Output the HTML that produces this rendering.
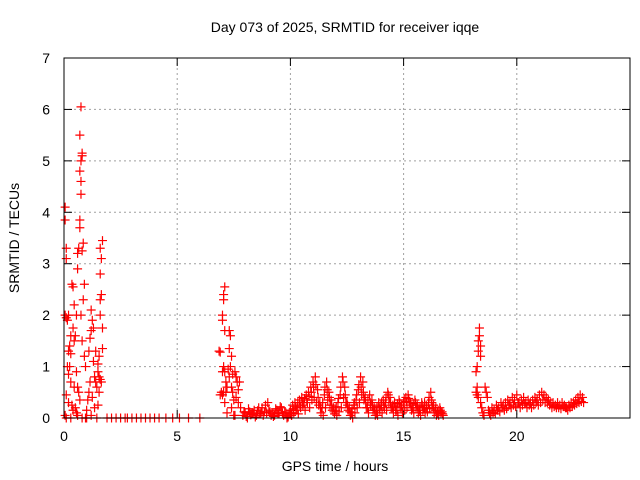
<!DOCTYPE html>
<html><head><meta charset="utf-8"><style>
body{margin:0;background:#fff}
svg{display:block;font-family:"Liberation Sans",sans-serif}
</style></head><body>
<svg id="chart" width="640" height="480">
<text x="345" y="32" font-size="14" text-anchor="middle">Day 073 of 2025, SRMTID for receiver iqqe</text>
<text x="335" y="471" font-size="14" text-anchor="middle">GPS time / hours</text>
<text transform="translate(19,238) rotate(-90)" font-size="14" text-anchor="middle">SRMTID / TECUs</text>
<g id="grid"></g>
<g id="ticks"></g>
<g id="marks"></g>
<rect x="64" y="58" width="566" height="360" fill="none" stroke="#000" stroke-width="1"/>
</svg>
<script>
const xTicks = [0,5,10,15,20];
const yTicks = [0,1,2,3,4,5,6,7];
const burst1 = [[0.05,4.1],[0.05,3.85],[0.1,3.3],[0.1,3.1],[0.05,2.0],[0.1,1.95],[0.15,1.9],[0.2,2.0],[0.25,1.4],[0.2,1.3],[0.3,1.25],[0.15,1.0],[0.2,0.85],[0.3,0.7],[0.1,0.45],[0.2,0.3],[0.35,0.25],[0.4,0.15],[0.05,0.05],[0.1,0.0],[0.3,0.0],[0.35,2.6],[0.4,2.55],[0.45,2.2],[0.4,1.75],[0.5,1.6],[0.45,1.5],[0.55,2.0],[0.6,3.2],[0.6,2.9],[0.65,3.3],[0.7,3.7],[0.7,3.85],[0.75,4.35],[0.7,4.8],[0.75,4.6],[0.75,5.0],[0.8,5.1],[0.8,5.15],[0.7,5.5],[0.75,6.05],[0.85,3.4],[0.8,3.25],[0.9,2.6],[0.85,2.3],[0.75,2.0],[0.8,1.5],[0.9,1.2],[0.95,1.0],[0.55,0.9],[0.6,0.6],[0.65,0.5],[0.7,0.35],[0.5,0.2],[0.55,0.1],[0.6,0.05],[0.8,0.0],[1.0,0.15],[1.05,0.35],[1.1,0.5],[1.15,0.7],[1.1,1.3],[1.15,1.55],[1.2,1.7],[1.25,1.9],[1.2,2.1],[1.3,1.75],[1.3,1.1],[1.35,0.8],[1.4,0.7],[1.25,0.4],[1.35,0.2],[1.2,0.05],[1.45,0.6],[1.5,0.9],[1.55,1.2],[1.6,2.0],[1.6,2.3],[1.65,2.4],[1.6,2.8],[1.65,3.1],[1.6,3.3],[1.7,3.45],[1.7,1.75],[1.55,0.8],[1.6,0.75],[1.65,0.7],[1.55,0.5],[1.5,1.05],[1.7,1.35],[1.5,0.25],[0.25,1.0],[0.3,1.6],[0.45,0.6],[1.4,1.3],[1.45,0.0]];
const zeros = [[1.9,0],[2.1,0],[2.3,0],[2.5,0],[2.7,0],[2.8,0],[3.0,0],[3.2,0],[3.4,0],[3.6,0],[3.8,0],[4.0,0],[4.2,0],[4.5,0],[4.8,0],[5.1,0],[5.5,0],[6.0,0],[1.0,0],[0.95,0]];
const burst2 = [[6.85,1.3],[6.9,1.28],[6.9,0.45],[6.95,0.5],[7.0,0.45],[7.0,2.0],[7.0,1.9],[7.05,2.3],[7.05,2.4],[7.1,2.55],[7.1,1.7],[7.05,1.0],[7.1,0.9],[7.15,0.7],[7.2,0.6],[7.15,0.5],[7.0,0.9],[7.05,0.5],[7.1,0.3],[7.2,0.1],[7.3,1.7],[7.35,1.6],[7.3,1.35],[7.4,1.2],[7.35,1.0],[7.3,0.8],[7.4,0.6],[7.45,0.5],[7.5,0.35],[7.4,0.2],[7.5,0.05],[7.55,0.9],[7.6,0.8],[7.65,0.7],[7.7,0.55],[7.6,0.4],[7.7,0.3],[7.75,0.7],[7.8,0.2],[7.55,0.05],[7.25,0.95],[7.45,0.85]];
const quietT = [7.9,8.0,8.1,8.2,8.3,8.4,8.5,8.6,8.7,8.8,8.9,9.0,9.1,9.2,9.3,9.4,9.5,9.6,9.7,9.8,9.9,10.0];
const quietA = [0.05,0.1,0.0,0.12,0.08,0.15,0.05,0.2,0.1,0.05,0.25,0.3,0.12,0.08,0.05,0.15,0.1,0.2,0.05,0.1,0.02,0.15];
const quietB = [0.12,0.03,0.18,0.06,0.1,0.02,0.14,0.08,0.2,0.12,0.1,0.15,0.05,0.03,0.18,0.08,0.22,0.1,0.12,0.0,0.08,0.05];
const midT = [10.0,10.1,10.2,10.3,10.4,10.5,10.6,10.7,10.8,10.9,11.0,11.1,11.2,11.3,11.4,11.5,11.6,11.7,11.8,11.9,12.0,12.1,12.2,12.3,12.4,12.5,12.6,12.7,12.8,12.9,13.0,13.1,13.2,13.3,13.4,13.5,13.6,13.7,13.8,13.9,14.0,14.1,14.2,14.3,14.4,14.5,14.6,14.7,14.8,14.9,15.0,15.1,15.2,15.3,15.4,15.5,15.6,15.7,15.8,15.9,16.0,16.1,16.2,16.3,16.4,16.5,16.6,16.7];
const midA = [0.15,0.25,0.3,0.2,0.35,0.4,0.3,0.45,0.5,0.6,0.7,0.8,0.55,0.3,0.2,0.45,0.7,0.5,0.35,0.2,0.15,0.3,0.45,0.8,0.6,0.3,0.2,0.1,0.25,0.35,0.55,0.8,0.7,0.4,0.2,0.45,0.35,0.2,0.1,0.3,0.25,0.35,0.3,0.5,0.4,0.2,0.3,0.15,0.35,0.25,0.3,0.4,0.45,0.3,0.2,0.35,0.25,0.15,0.3,0.2,0.25,0.3,0.5,0.2,0.15,0.1,0.2,0.12];
const midB = [0.05,0.1,0.15,0.08,0.2,0.25,0.15,0.3,0.2,0.35,0.4,0.3,0.25,0.1,0.05,0.2,0.35,0.25,0.15,0.08,0.05,0.12,0.2,0.4,0.3,0.15,0.05,0.0,0.1,0.2,0.3,0.45,0.35,0.2,0.1,0.25,0.15,0.05,0.05,0.15,0.1,0.2,0.15,0.3,0.2,0.1,0.15,0.05,0.2,0.1,0.15,0.2,0.3,0.15,0.1,0.2,0.1,0.05,0.15,0.1,0.12,0.18,0.3,0.1,0.05,0.05,0.1,0.05];
const midC = [0.1,0.18,0.22,0.3,0.25,0.3,0.38,0.35,0.42,0.5,0.6,0.65,0.4,0.2,0.3,0.6,0.55,0.4,0.25,0.12,0.22,0.38,0.6,0.7,0.45,0.25,0.12,0.18,0.3,0.45,0.65,0.6,0.5,0.3,0.35,0.3,0.25,0.15,0.22,0.2,0.3,0.25,0.4,0.45,0.3,0.25,0.22,0.28,0.3,0.2,0.35,0.32,0.38,0.25,0.28,0.3,0.2,0.22,0.25,0.3,0.2,0.4,0.35,0.25,0.2,0.15,0.15,0.08];
const burst3 = [[18.2,0.5],[18.25,0.6],[18.2,0.9],[18.25,1.0],[18.3,1.3],[18.3,1.5],[18.35,1.6],[18.35,1.75],[18.4,1.4],[18.4,1.2],[18.3,0.4],[18.4,0.3],[18.45,0.2],[18.5,0.1],[18.55,0.05],[18.6,0.6],[18.65,0.5],[18.7,0.4],[18.75,0.15],[18.8,0.1],[18.25,0.45]];
const lateT = [18.8,18.9,19.0,19.1,19.2,19.3,19.4,19.5,19.6,19.7,19.8,19.9,20.0,20.1,20.2,20.3,20.4,20.5,20.6,20.7,20.8,20.9,21.0,21.1,21.2,21.3,21.4,21.5,21.6,21.7,21.8,21.9,22.0,22.1,22.2,22.3,22.4,22.5,22.6,22.7,22.8,22.9];
const lateA = [0.1,0.2,0.15,0.25,0.2,0.3,0.25,0.3,0.35,0.3,0.4,0.35,0.45,0.3,0.35,0.4,0.3,0.35,0.3,0.35,0.4,0.35,0.45,0.5,0.45,0.4,0.35,0.3,0.3,0.25,0.3,0.25,0.3,0.25,0.2,0.25,0.3,0.3,0.35,0.4,0.45,0.4];
const lateB = [0.05,0.1,0.08,0.15,0.12,0.2,0.15,0.18,0.25,0.2,0.25,0.22,0.3,0.2,0.25,0.28,0.2,0.25,0.2,0.25,0.3,0.25,0.3,0.35,0.3,0.3,0.25,0.2,0.22,0.2,0.2,0.18,0.22,0.2,0.15,0.2,0.22,0.25,0.28,0.3,0.32,0.3];

const NS = "http://www.w3.org/2000/svg";
const X = t => 64 + t * 566 / 25;
const Y = v => 418 - v * 360 / 7;
const grid = document.getElementById('grid');
const ticks = document.getElementById('ticks');
const marks = document.getElementById('marks');
function mk(tag, attrs, parent){const e=document.createElementNS(NS,tag);for(const k in attrs)e.setAttribute(k,attrs[k]);parent.appendChild(e);return e;}
xTicks.forEach(t=>{
  const x=X(t);
  if(t>0){const g=mk('line',{x1:x,x2:x,y1:58,y2:418,stroke:'#a0a0a0','stroke-dasharray':'2,3'},grid);
  
  }
  mk('line',{x1:x,x2:x,y1:418,y2:410,stroke:'#000'},ticks);
  mk('line',{x1:x,x2:x,y1:58,y2:66,stroke:'#000'},ticks);
  const l=mk('text',{x:x,y:441,'font-size':14,'text-anchor':'middle'},ticks);l.textContent=t;
  
  
});
yTicks.forEach(v=>{
  const y=Y(v);
  if(v>0&&v<7){const g=mk('line',{x1:64,x2:630,y1:y,y2:y,stroke:'#a0a0a0','stroke-dasharray':'2,3'},grid);
  
  }
  mk('line',{x1:64,x2:72,y1:y,y2:y,stroke:'#000'},ticks);
  mk('line',{x1:622,x2:630,y1:y,y2:y,stroke:'#000'},ticks);
  const l=mk('text',{x:50,y:y+5,'font-size':14,'text-anchor':'end'},ticks);l.textContent=v;
  
  
});
function plus(t,v){
  const x=X(t),y=Y(v);
  const p=mk('path',{d:`M${x-4.5},${y}H${x+4.5}M${x},${y-4.5}V${y+4.5}`,stroke:'#f00','stroke-width':1.2,fill:'none'},marks);
  
  
}
[burst1,zeros,burst2,burst3].forEach(a=>a.forEach(p=>plus(p[0],p[1])));
[[quietT,quietA,0],[quietT,quietB,0.05],[midT,midA,0],[midT,midB,0.05],[midT,midC,0.025],[lateT,lateA,0],[lateT,lateB,0.05]].forEach(([T,V,o])=>{
  T.forEach((t,i)=>{if(V[i]!==undefined)plus(t+o,V[i]);});
});
</script>
</body></html>
